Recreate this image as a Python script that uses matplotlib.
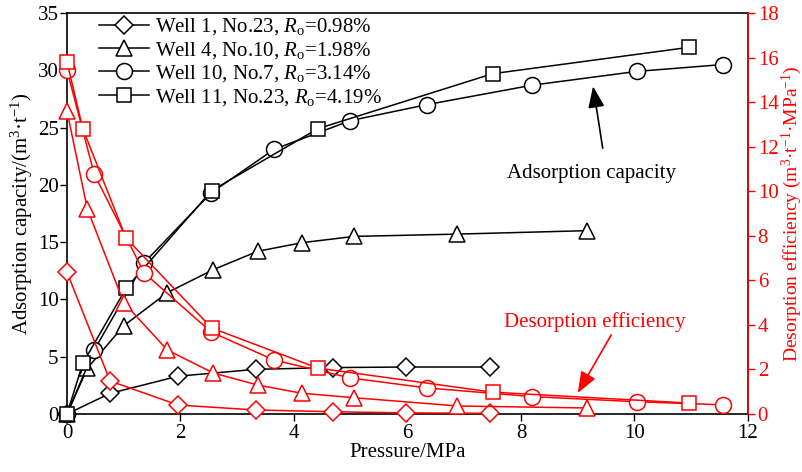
import matplotlib
matplotlib.use('Agg')
import matplotlib.pyplot as plt

plt.rcParams['font.family'] = ['Liberation Serif', 'DejaVu Serif']
plt.rcParams['mathtext.fontset'] = 'custom'
plt.rcParams['mathtext.rm'] = 'Liberation Serif'
plt.rcParams['mathtext.it'] = 'Liberation Serif:italic'

# Well 1, No.23
p1 = [0, 0.76, 1.96, 3.33, 4.69, 5.97, 7.45]
ads1 = [0, 1.8, 3.3, 3.9, 4.05, 4.1, 4.1]
des1 = [6.37, 1.48, 0.4, 0.18, 0.1, 0.05, 0.03]

# Well 4, No.10
p4 = [0, 0.36, 1.0, 1.77, 2.58, 3.36, 4.14, 5.06, 6.88, 9.16]
ads4 = [0, 4.0, 7.7, 10.6, 12.6, 14.2, 14.95, 15.5, 15.7, 16.0]
des4 = [13.6, 9.2, 5.0, 2.87, 1.84, 1.3, 0.93, 0.73, 0.36, 0.27]

# Well 10, No.7
p10 = [0, 0.48, 1.36, 2.54, 3.65, 4.99, 6.34, 8.2, 10.04, 11.56]
ads10 = [0, 5.57, 13.2, 19.3, 23.1, 25.6, 27.0, 28.7, 29.9, 30.5]
des10 = [15.44, 10.77, 6.33, 3.68, 2.42, 1.62, 1.17, 0.78, 0.55, 0.41]

# Well 11, No.23
p11 = [0, 0.28, 1.04, 2.55, 4.42, 7.5, 10.96]
ads11 = [0, 4.43, 10.96, 19.5, 24.9, 29.7, 32.0]
des11 = [15.8, 12.8, 7.9, 3.86, 2.06, 0.98, 0.49]

labels = ['Well 1, No.23, $R_\\mathrm{o}$=0.98%',
          'Well 4, No.10, $R_\\mathrm{o}$=1.98%',
          'Well 10, No.7, $R_\\mathrm{o}$=3.14%',
          'Well 11, No.23, $R_\\mathrm{o}$=4.19%']
markers = ['D', '^', 'o', 's']
msizes = [9, 11, 11.5, 10]

fig = plt.figure(figsize=(8.03, 4.72), dpi=100)
ax = fig.add_axes([0.0834, 0.1229, 0.8481, 0.8496])
ax2 = ax.twinx()

press = [p1, p4, p10, p11]
ads = [ads1, ads4, ads10, ads11]
des = [des1, des4, des10, des11]

for i in range(4):
    ax.plot(press[i], ads[i], color='black', lw=1.1, marker=markers[i],
            ms=msizes[i], mfc='white', mec='black', mew=1.1,
            label=labels[i], clip_on=False, zorder=3)
    ax2.plot(press[i], des[i], color='red', lw=1.1, marker=markers[i],
             ms=msizes[i], mfc='white', mec='red', mew=1.1,
             clip_on=False, zorder=3)

ax.set_xlim(0, 12)
ax.set_ylim(0, 35)
ax2.set_ylim(0, 18)
ax.set_xticks(range(0, 13, 2))
ax.set_yticks(range(0, 36, 5))
ax2.set_yticks(range(0, 19, 2))

ax.tick_params(direction='out', length=5, width=1, labelsize=15, pad=2)
ax.tick_params(axis='y', pad=1)
ax2.tick_params(direction='out', length=5, width=1, labelsize=15,
                colors='red', pad=2)
ax2.spines['right'].set_color('red')
for s in ['left', 'bottom', 'top']:
    ax2.spines[s].set_visible(False)
for s in ax.spines.values():
    s.set_linewidth(1.2)
ax2.spines['right'].set_linewidth(1.2)

ax.set_xlabel('Pressure/MPa', fontsize=15, labelpad=0)
ax.set_ylabel('Adsorption capacity/(m$^3$·t$^{-1}$)', fontsize=15, labelpad=2)
ax2.set_ylabel('Desorption efficiency (m$^3$·t$^{-1}$·MPa$^{-1}$)',
               fontsize=14, color='red', labelpad=1)

ax.legend(loc='upper left', bbox_to_anchor=(0.035, 1.012), frameon=False,
          fontsize=15, handlelength=2.4, handletextpad=0.3,
          labelspacing=0.12, borderaxespad=0)

# annotations
ax.text(9.25, 21.0, 'Adsorption capacity', fontsize=15, ha='center', va='center')
ax.annotate('', xy=(9.27, 28.6), xytext=(9.44, 23.2),
            arrowprops=dict(arrowstyle='-|>,head_length=1.3,head_width=0.5',
                            color='black', lw=1.2, shrinkA=0, shrinkB=0))
ax2.text(9.3, 4.13, 'Desorption efficiency', fontsize=15, ha='center',
         va='center', color='red')
ax2.annotate('', xy=(9.0, 0.94), xytext=(9.59, 3.55),
             arrowprops=dict(arrowstyle='-|>,head_length=1.3,head_width=0.5',
                             color='red', lw=1.2, shrinkA=0, shrinkB=0))

fig.savefig('out.png', dpi=100)
